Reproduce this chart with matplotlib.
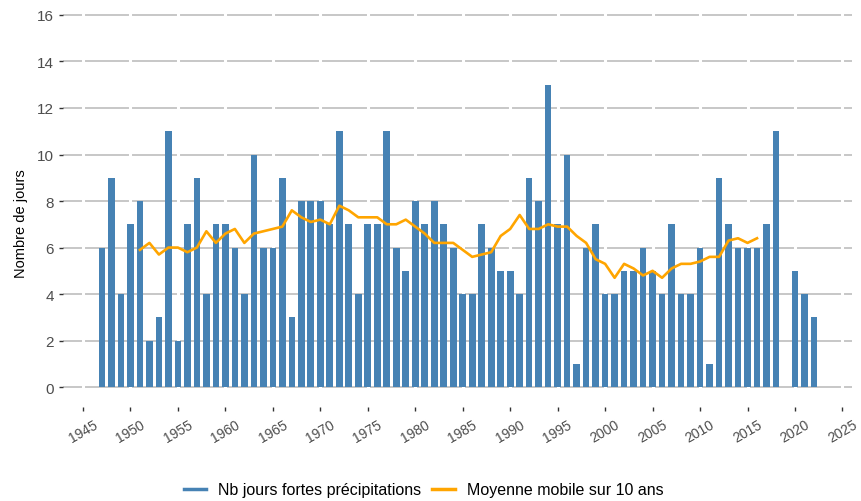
import matplotlib
matplotlib.use("Agg")
import matplotlib.pyplot as plt
from matplotlib.lines import Line2D

plt.rcParams["font.family"] = ["Liberation Sans", "DejaVu Sans"]

# yearly counts (2019 missing in the series)
years = [1947, 1948, 1949, 1950, 1951, 1952, 1953, 1954, 1955, 1956,
         1957, 1958, 1959, 1960, 1961, 1962, 1963, 1964, 1965, 1966,
         1967, 1968, 1969, 1970, 1971, 1972, 1973, 1974, 1975, 1976,
         1977, 1978, 1979, 1980, 1981, 1982, 1983, 1984, 1985, 1986,
         1987, 1988, 1989, 1990, 1991, 1992, 1993, 1994, 1995, 1996,
         1997, 1998, 1999, 2000, 2001, 2002, 2003, 2004, 2005, 2006,
         2007, 2008, 2009, 2010, 2011, 2012, 2013, 2014, 2015, 2016,
         2017, 2018, 2020, 2021, 2022]
nb_jours = [6, 9, 4, 7, 8, 2, 3, 11, 2, 7,
            9, 4, 7, 7, 6, 4, 10, 6, 6, 9,
            3, 8, 8, 8, 7, 11, 7, 4, 7, 7,
            11, 6, 5, 8, 7, 8, 7, 6, 4, 4,
            7, 6, 5, 5, 4, 9, 8, 13, 7, 10,
            1, 6, 7, 4, 4, 5, 5, 6, 5, 4,
            7, 4, 4, 6, 1, 9, 7, 6, 6, 6,
            7, 11, 5, 4, 3]

# 10-year moving average, 1951 -> 2016
ma_years = list(range(1951, 2017))
moyenne = [5.9, 6.2, 5.7, 6.0, 6.0, 5.8, 6.0, 6.7, 6.2, 6.6,
           6.8, 6.2, 6.6, 6.7, 6.8, 6.9, 7.6, 7.3, 7.1, 7.2,
           7.0, 7.8, 7.6, 7.3, 7.3, 7.3, 7.0, 7.0, 7.2, 6.9,
           6.6, 6.2, 6.2, 6.2, 5.9, 5.6, 5.7, 5.8, 6.5, 6.8,
           7.4, 6.8, 6.8, 7.0, 6.9, 6.9, 6.5, 6.2, 5.5, 5.3,
           4.7, 5.3, 5.1, 4.8, 5.0, 4.7, 5.1, 5.3, 5.3, 5.4,
           5.6, 5.6, 6.3, 6.4, 6.2, 6.4]

xticks = list(range(1945, 2030, 5))
yticks = list(range(0, 18, 2))

BLUE = "#4682b4"
ORANGE = "#ffa500"

fig = plt.figure(figsize=(8.61, 5.02), dpi=100)
ax = fig.add_axes([0.0732, 0.187, 0.9163, 0.803])

ax.bar(years, nb_jours, width=0.7, color=BLUE, zorder=2)
ax.plot(ma_years, moyenne, color=ORANGE, linewidth=1.9, zorder=3)

ax.set_xlim(1942.9, 2026.0)
ax.set_ylim(-0.86, 16.47)
ax.set_xticks(xticks)
ax.set_yticks(yticks)
ax.set_xticklabels([str(x) for x in xticks], rotation=30, ha="center")

ax.set_axisbelow(True)
ax.grid(axis="y", color="#bebebe", linewidth=1.2)
for x in xticks:
    ax.axvline(x, color="white", linewidth=2.2, zorder=1)

for s in ax.spines.values():
    s.set_visible(False)
ax.tick_params(axis="both", colors="#333333", length=3, width=1,
               labelcolor="#4d4d4d", labelsize=10)
ax.tick_params(axis="x", pad=4)
ax.tick_params(axis="y", labelsize=11)
ax.set_ylabel("Nombre de jours", fontsize=10.5, color="black")
ax.yaxis.set_label_coords(-0.045, 0.457)

handles = [Line2D([], [], color=BLUE, linewidth=2.5),
           Line2D([], [], color=ORANGE, linewidth=2.5)]
labels = ["Nb jours fortes précipitations", "Moyenne mobile sur 10 ans"]
fig.legend(handles, labels, loc="center", bbox_to_anchor=(0.492, 0.022),
           ncol=2, frameon=False, fontsize=11.5, handlelength=1.4,
           handletextpad=0.75, columnspacing=0.7)

fig.savefig("out.png", dpi=100)
